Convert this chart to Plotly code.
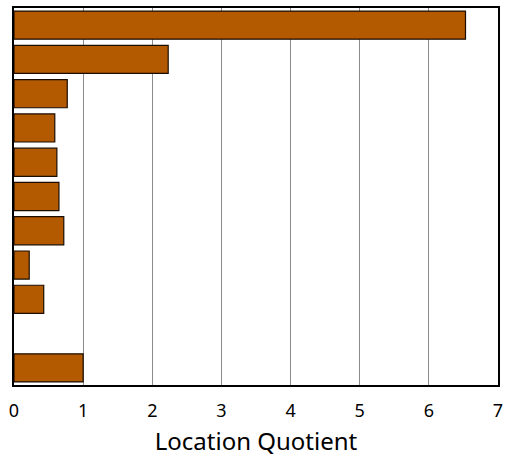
import plotly.graph_objects as go

categories = ["C1", "C2", "C3", "C4", "C5", "C6", "C7", "C8", "C9", "C10", "C11"]
values = [6.53, 2.23, 0.77, 0.59, 0.62, 0.65, 0.72, 0.22, 0.43, None, 1.0]
x_ticks = [0, 1, 2, 3, 4, 5, 6, 7]

fig = go.Figure(go.Bar(
    x=values, y=categories, orientation="h",
    marker=dict(color="#B35900", line=dict(color="#1a0d00", width=1.2)),
    width=0.82, hoverinfo="skip",
))
fig.update_layout(
    width=505, height=457,
    margin=dict(l=14, r=7, t=8, b=72, autoexpand=False),
    plot_bgcolor="white", paper_bgcolor="white",
    showlegend=False,
    font=dict(family="'Noto Sans', Lato, sans-serif", color="black"),
)
fig.update_xaxes(
    range=[0, 7], tickvals=x_ticks, ticktext=[str(t) for t in x_ticks],
    showgrid=True, gridcolor="#8c8c8c", gridwidth=1,
    showline=True, linecolor="black", linewidth=2, mirror=True,
    tickfont=dict(size=18), ticks="", zeroline=False, automargin=False,
    ticklabelstandoff=8,
    title=dict(text="Location Quotient", font=dict(size=24), standoff=16),
)
fig.update_yaxes(
    categoryorder="array", categoryarray=categories[::-1],
    showticklabels=False, showgrid=False, ticks="", automargin=False,
    showline=True, linecolor="black", linewidth=2, mirror=True,
    range=[-0.5, 10.5],
)
fig.write_html("out.html", config={"displayModeBar": False},
               post_script="document.body.style.margin='0';")
